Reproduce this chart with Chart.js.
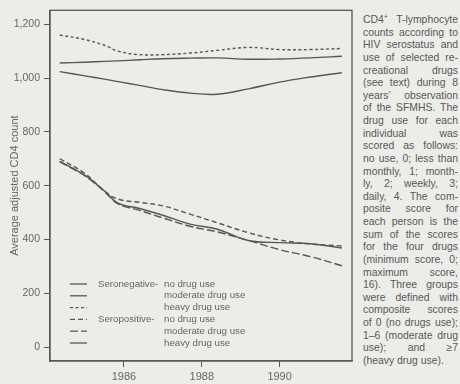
<!DOCTYPE html>
<html>
<head>
<meta charset="utf-8">
<script src="https://cdn.jsdelivr.net/npm/chart.js@4/dist/chart.umd.min.js"></script>
<style>
  html, body { margin: 0; padding: 0; background: #ecece9; }
  body { width: 460px; height: 384px; position: relative; overflow: hidden; font-family: 'Liberation Sans', Arial, sans-serif; }
  #wrap { position: absolute; left: 0; top: 0; width: 353px; height: 384px; }
  #caption { position: absolute; left: 363px; top: 14px; width: 95px; font-size: 10.4px; line-height: 12.63px; color: #585858; }
  #caption div { text-align: justify; text-align-last: justify; white-space: nowrap; }
  #caption div.last { text-align-last: left; }
  #caption sup { font-size: 7px; line-height: 0; vertical-align: 4px; }
</style>
</head>
<body>
<div id="wrap"><canvas id="c" width="353" height="384"></canvas></div>
<div id="caption"></div>
<script>
// ---- data ----
const years = [1984.35, 1985.0, 1985.5, 1985.85, 1986.4, 1987.0, 1987.7, 1988.4, 1989.2, 1990.0, 1990.8, 1991.6];
const negNone     = [1024, 1008, 996, 987, 973, 957, 944, 940, 960, 985, 1004, 1020];
const negModerate = [1056, 1059, 1062, 1064, 1068, 1072, 1074, 1075, 1070, 1071, 1075, 1081];
const negHeavy    = [1160, 1143, 1122, 1100, 1087, 1087, 1093, 1103, 1114, 1106, 1106, 1110];
const posNone     = [700, 645, 580, 550, 538, 525, 494, 462, 425, 398, 383, 376];
const posModerate = [688, 636, 578, 532, 508, 480, 449, 428, 396, 362, 336, 302];
const posHeavy    = [690, 638, 580, 535, 515, 490, 457, 438, 396, 388, 384, 368];
const xTicks = [1986, 1988, 1990];
const yTicks = [0, 200, 400, 600, 800, 1000, 1200];
const groupLabels = ['Seronegative-', '', '', 'Seropositive-', '', ''];
const itemLabels = ['no drug use', 'moderate drug use', 'heavy drug use', 'no drug use', 'moderate drug use', 'heavy drug use'];
const yTitle = 'Average adjusted CD4 count';
const captionLines = [
  'CD4<sup>+</sup> T-lymphocyte', 'counts according to', 'HIV serostatus and', 'use of selected re-',
  'creational drugs', '(see text) during 8', 'years\u2019 observation', 'of the SFMHS. The',
  'drug use for each', 'individual was', 'scored as follows:', 'no use, 0; less than',
  'monthly, 1; month-', 'ly, 2; weekly, 3;', 'daily, 4. The com-', 'posite score for',
  'each person is the', 'sum of the scores', 'for the four drugs', '(minimum score, 0;',
  'maximum score,', '16). Three groups', 'were defined with', 'composite scores',
  'of 0 (no drugs use);', '1\u20136 (moderate drug', 'use); and \u22657', '(heavy drug use).'
];

// caption
const cap = document.getElementById('caption');
captionLines.forEach((t, i) => {
  const d = document.createElement('div');
  d.innerHTML = t;
  if (i === captionLines.length - 1) d.className = 'last';
  cap.appendChild(d);
});

const FONT = "'Liberation Sans', Arial, sans-serif";
const LINE = '#575757';
const TEXT = '#666666';
const pts = arr => years.map((x, i) => ({ x: x, y: arr[i] }));
const series = [negNone, negModerate, negHeavy, posNone, posModerate, posHeavy];
const dashes = [[], [], [3, 2.5], [5, 3], [8, 3], []];

const datasets = series.map((s, i) => ({
  label: (groupLabels[i] || groupLabels[i < 3 ? 0 : 3]) + ' ' + itemLabels[i],
  data: pts(s),
  borderColor: LINE,
  borderWidth: 1.4,
  borderDash: dashes[i],
  pointRadius: 0,
  tension: 0.4,
  fill: false
}));

const framePlugin = {
  id: 'frame',
  afterDraw(chart) {
    const { ctx, chartArea: a } = chart;
    ctx.save();
    ctx.strokeStyle = LINE;
    ctx.lineWidth = 1.3;
    ctx.strokeRect(a.left, a.top, a.right - a.left, a.bottom - a.top);
    ctx.restore();
  }
};

const legendPlugin = {
  id: 'innerLegend',
  afterDatasetsDraw(chart) {
    const { ctx, chartArea: a } = chart;
    ctx.save();
    ctx.font = '9.7px ' + FONT;
    ctx.fillStyle = TEXT;
    ctx.textBaseline = 'middle';
    const y0 = a.bottom - 77, step = 11.8;
    chart.data.datasets.forEach((ds, i) => {
      const y = y0 + i * step;
      ctx.strokeStyle = LINE;
      ctx.lineWidth = 1.3;
      ctx.setLineDash(dashes[i]);
      ctx.beginPath();
      ctx.moveTo(a.left + 20, y);
      ctx.lineTo(a.left + 37, y);
      ctx.stroke();
      ctx.setLineDash([]);
      if (groupLabels[i]) ctx.fillText(groupLabels[i], a.left + 48, y);
      ctx.fillText(itemLabels[i], a.left + 114, y);
    });
    ctx.restore();
  }
};

new Chart(document.getElementById('c'), {
  type: 'line',
  data: { datasets },
  options: {
    responsive: false,
    animation: false,
    layout: { padding: { top: 7, right: 1, left: 0, bottom: 0 } },
    plugins: { legend: { display: false }, tooltip: { enabled: false } },
    scales: {
      x: {
        type: 'linear',
        min: 1984.1,
        max: 1991.86,
        afterBuildTicks: axis => { axis.ticks = xTicks.map(v => ({ value: v })); },
        afterFit: s => { s.height = 23; },
        grid: { drawOnChartArea: false, drawTicks: true, tickLength: 6, color: LINE, lineWidth: 1 },
        border: { display: true, color: LINE, width: 1.3 },
        ticks: { color: TEXT, font: { family: FONT, size: 11 }, padding: 3, maxRotation: 0, callback: v => String(v) }
      },
      y: {
        min: -52,
        max: 1252,
        afterBuildTicks: axis => { axis.ticks = yTicks.map(v => ({ value: v })); },
        afterFit: s => { s.width = 50; },
        grid: { drawOnChartArea: false, drawTicks: true, tickLength: 6, color: LINE, lineWidth: 1 },
        border: { display: true, color: LINE, width: 1.3 },
        ticks: { color: TEXT, font: { family: FONT, size: 10.5 }, padding: 4, callback: v => v.toLocaleString('en-US') },
        title: { display: true, text: yTitle, color: TEXT, font: { family: FONT, size: 11 }, padding: { top: 8, bottom: 0 } }
      }
    }
  },
  plugins: [framePlugin, legendPlugin]
});
</script>
</body>
</html>
